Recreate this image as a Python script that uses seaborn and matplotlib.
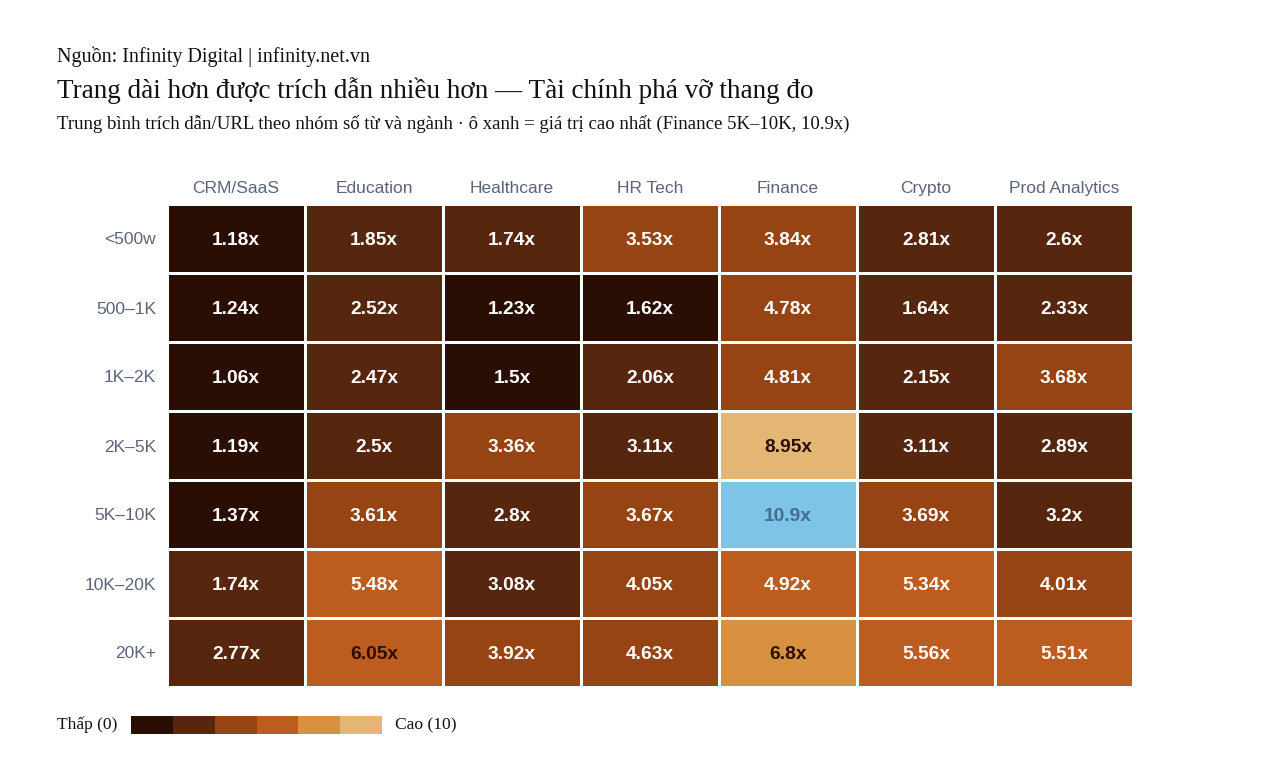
import numpy as np
import pandas as pd
import matplotlib
matplotlib.use("Agg")
import matplotlib.pyplot as plt
import seaborn as sns
from matplotlib.colors import ListedColormap, BoundaryNorm
from matplotlib.cm import ScalarMappable

# Dữ liệu: trích dẫn trung bình / URL theo nhóm số từ và ngành
word_groups = ["<500w", "500–1K", "1K–2K", "2K–5K", "5K–10K", "10K–20K", "20K+"]
industries = ["CRM/SaaS", "Education", "Healthcare", "HR Tech", "Finance", "Crypto", "Prod Analytics"]

crm_saas = [1.18, 1.24, 1.06, 1.19, 1.37, 1.74, 2.77]
education = [1.85, 2.52, 2.47, 2.5, 3.61, 5.48, 6.05]
healthcare = [1.74, 1.23, 1.5, 3.36, 2.8, 3.08, 3.92]
hr_tech = [3.53, 1.62, 2.06, 3.11, 3.67, 4.05, 4.63]
finance = [3.84, 4.78, 4.81, 8.95, 10.9, 4.92, 6.8]
crypto = [2.81, 1.64, 2.15, 3.11, 3.69, 5.34, 5.56]
prod_analytics = [2.6, 2.33, 3.68, 2.89, 3.2, 4.01, 5.51]

df = pd.DataFrame(
    np.column_stack([crm_saas, education, healthcare, hr_tech, finance, crypto, prod_analytics]),
    index=word_groups, columns=industries,
)

# Thang màu rời rạc 6 bậc
palette = ["#2a0e04", "#57260f", "#964413", "#bc5c1e", "#d79140", "#e3b674"]
cmap = ListedColormap(palette)
norm = BoundaryNorm(np.linspace(0, 9.8, 7), cmap.N, clip=True)
highlight = "#7ec4e6"

plt.rcParams["font.family"] = ["Liberation Sans", "DejaVu Sans"]
fig = plt.figure(figsize=(12.8, 7.68), dpi=100)
ax = fig.add_axes([167 / 1280, 1 - 687 / 768, (1133 - 167) / 1280, (687 - 204) / 768])

is_max = df.values == df.values.max()
sns.heatmap(df, ax=ax, cmap=cmap, norm=norm, cbar=False, mask=is_max,
            linewidths=1.8, linecolor="white")
sns.heatmap(df, ax=ax, cmap=ListedColormap([highlight]), cbar=False, mask=~is_max,
            linewidths=1.8, linecolor="white")

for i in range(len(word_groups)):
    for j in range(len(industries)):
        v = df.iat[i, j]
        if is_max[i, j]:
            c = "#3f6e8f"
        elif v > 6:
            c = "#2a0e04"
        else:
            c = "white"
        ax.text(j + 0.5, i + 0.5, f"{v:g}x", ha="center", va="center_baseline",
                fontsize=13.8, fontweight="bold", color=c)

ax.xaxis.tick_top()
ax.tick_params(axis="both", length=0, colors="#5b6478", labelsize=12.5)
ax.tick_params(axis="x", pad=6)
ax.tick_params(axis="y", pad=8)
ax.set_xticklabels(industries, rotation=0)
ax.set_yticklabels(word_groups, rotation=0, va="center_baseline")
ax.set_xlabel("")
ax.set_ylabel("")

serif = ["Liberation Serif", "DejaVu Serif"]
fig.text(57 / 1280, 1 - 57 / 768, "Nguồn: Infinity Digital | infinity.net.vn",
         fontsize=14.5, family=serif, va="center", ha="left", color="#111111")
fig.text(57 / 1280, 1 - 91 / 768, "Trang dài hơn được trích dẫn nhiều hơn — Tài chính phá vỡ thang đo",
         fontsize=19.5, family=serif, va="center", ha="left", color="#111111")
fig.text(57 / 1280, 1 - 124 / 768,
         "Trung bình trích dẫn/URL theo nhóm số từ và ngành · ô xanh = giá trị cao nhất (Finance 5K–10K, 10.9x)",
         fontsize=13.5, family=serif, va="center", ha="left", color="#111111")

# Chú giải thang màu
cax = fig.add_axes([131 / 1280, 1 - 734 / 768, 251 / 1280, 18 / 768])
cb = fig.colorbar(ScalarMappable(norm=norm, cmap=cmap), cax=cax, orientation="horizontal")
cb.set_ticks([])
cb.ax.tick_params(which="both", length=0)
cb.ax.xaxis.set_ticks([], minor=True)
cb.outline.set_visible(False)
fig.text(57 / 1280, 1 - 725 / 768, "Thấp (0)", fontsize=12.6, family=serif,
         va="center", ha="left", color="#111111")
fig.text(395 / 1280, 1 - 725 / 768, "Cao (10)", fontsize=12.6, family=serif,
         va="center", ha="left", color="#111111")

fig.savefig("out.png", dpi=100, facecolor="white")
